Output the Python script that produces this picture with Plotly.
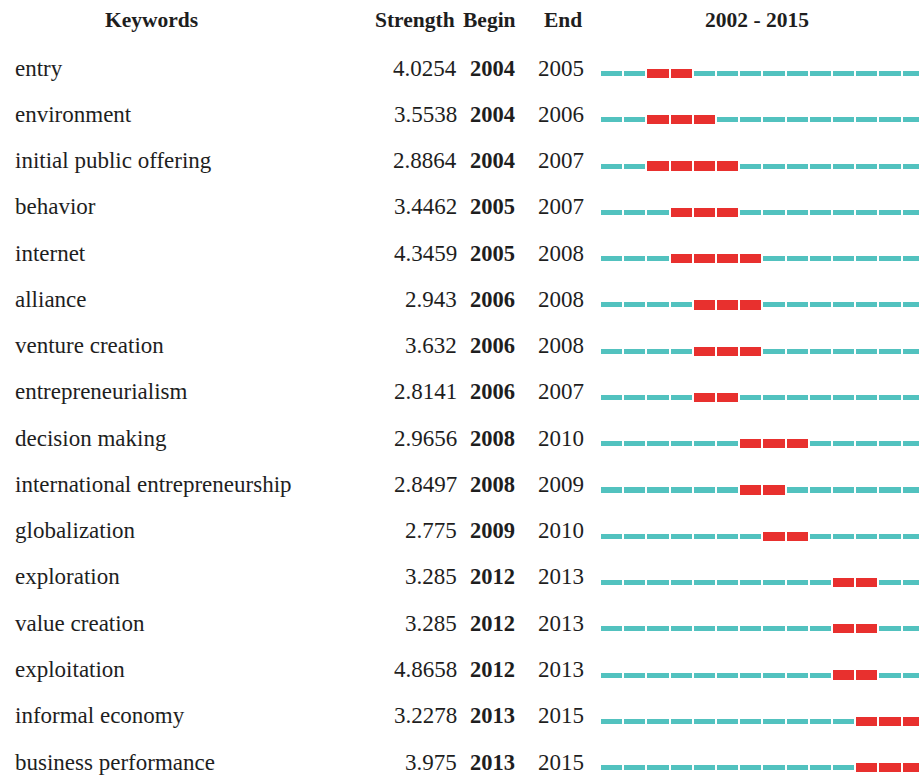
import plotly.graph_objects as go

keywords = ["entry", "environment", "initial public offering", "behavior", "internet",
            "alliance", "venture creation", "entrepreneurialism", "decision making",
            "international entrepreneurship", "globalization", "exploration",
            "value creation", "exploitation", "informal economy", "business performance"]
strength = ["4.0254", "3.5538", "2.8864", "3.4462", "4.3459", "2.943", "3.632", "2.8141",
            "2.9656", "2.8497", "2.775", "3.285", "3.285", "4.8658", "3.2278", "3.975"]
begin = [2004, 2004, 2004, 2005, 2005, 2006, 2006, 2006, 2008, 2008, 2009, 2012, 2012, 2012, 2013, 2013]
end = [2005, 2006, 2007, 2007, 2008, 2008, 2008, 2007, 2010, 2009, 2010, 2013, 2013, 2013, 2015, 2015]
year_start, year_end = 2002, 2015
headers = ["Keywords", "Strength", "Begin", "End", "2002 - 2015"]

W, H = 919, 776
row0_px, row_px = 68.0, 46.27
FONT = "Liberation Serif, Times New Roman, serif"
TXT = "#1e1e1e"
TEAL = "#52c2bf"
RED = "#e8302e"
gap = 0.09
bar_off = 0.12
tl_left = 600
year_px = 23.2

teal_y, teal_b, red_y, red_b = [], [], [], []
for i in range(len(keywords)):
    for yr in range(year_start, year_end + 1):
        if begin[i] <= yr <= end[i]:
            red_y.append(i + bar_off); red_b.append(yr + gap / 2)
        else:
            teal_y.append(i + bar_off); teal_b.append(yr + gap / 2)

fig = go.Figure()
fig.add_trace(go.Bar(orientation="h", y=teal_y, x=[1 - gap] * len(teal_y), base=teal_b,
                     width=0.11, marker=dict(color=TEAL, line=dict(width=0)),
                     xaxis="x2", yaxis="y", hoverinfo="skip", showlegend=False))
fig.add_trace(go.Bar(orientation="h", y=red_y, x=[1 - gap] * len(red_y), base=red_b,
                     width=0.2, marker=dict(color=RED, line=dict(width=0)),
                     xaxis="x2", yaxis="y", hoverinfo="skip", showlegend=False))

y_top = -row0_px / row_px
y_bot = (H - row0_px) / row_px
hdr_y = (20 - row0_px) / row_px

ann = []
def A(x, y, t, anchor, bold=False, fs=23):
    ann.append(dict(x=x, y=y, xref="x", yref="y", text=("<b>%s</b>" % t) if bold else t,
                    showarrow=False, xanchor=anchor, yanchor="middle",
                    font=dict(family=FONT, size=fs, color=TXT)))

HFS = 21.5
A(151, hdr_y, headers[0], "center", True, HFS)
A(457, hdr_y, headers[1], "right", True, HFS)
A(518, hdr_y, headers[2], "right", True, HFS)
A(584, hdr_y, headers[3], "right", True, HFS)
A(757, hdr_y, headers[4], "center", True, HFS)
for i in range(len(keywords)):
    A(13, i, keywords[i], "left")
    A(459, i, strength[i], "right")
    A(517, i, str(begin[i]), "right", True, 22.5)
    A(586, i, str(end[i]), "right")

span_years = (W - tl_left) / year_px
fig.update_layout(
    width=W, height=H, margin=dict(l=0, r=0, t=0, b=0),
    paper_bgcolor="white", plot_bgcolor="rgba(0,0,0,0)",
    barmode="overlay", bargap=0,
    xaxis=dict(domain=[0, 1], range=[0, W], visible=False, fixedrange=True),
    xaxis2=dict(domain=[tl_left / W, 1], range=[year_start, year_start + span_years],
                anchor="y", visible=False, fixedrange=True),
    yaxis=dict(range=[y_bot, y_top], visible=False, fixedrange=True),
    annotations=ann,
)
fig.write_html("out.html", config={"displayModeBar": False},
               post_script="document.body.style.margin='0';document.body.style.overflow='hidden';")
